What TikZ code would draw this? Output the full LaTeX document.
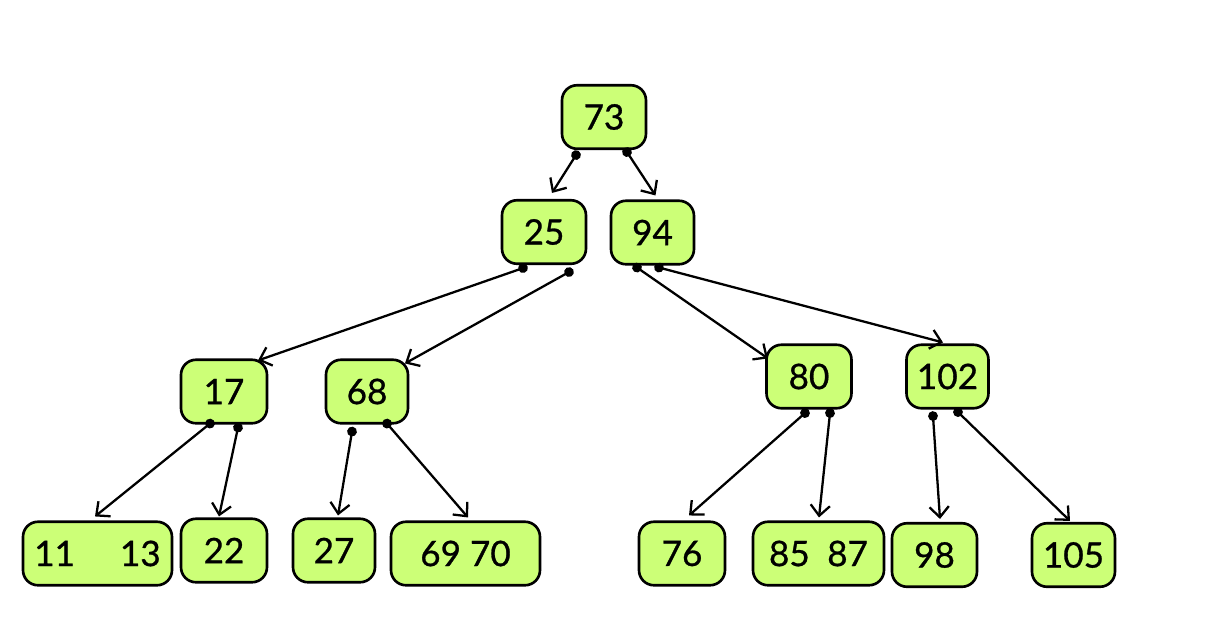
\documentclass[tikz,border=0pt]{standalone}
\usepackage{fontspec}
\setmainfont{Lato}[FakeBold=0.8]
\usepackage{tikz}
\usetikzlibrary{positioning,arrows.meta,calc}
\definecolor{keygreen}{RGB}{204,255,119}
\tikzset{
bnode/.style={
draw,
rounded corners=0.3cm,
line width=1.5pt,
minimum height=1.27cm,
inner sep=0pt,
align=center,
fill=keygreen,
font=\fontsize{20}{24}\selectfont
},
ptr/.style={
{Circle[length=5.5pt]}-{Straight Barb[length=6pt,width=11pt]},
shorten <=-2.75pt,
line width=1.3pt
}
}
\begin{document}
\begin{tikzpicture}[x=0.02cm,y=-0.02cm]
\useasboundingbox (0,0) rectangle (1215,637);

% root and inner keys
\node[bnode,minimum width=1.68cm] (n73) at (604,117) {73};
\node[bnode,minimum width=1.68cm] (n25) at (544,232) {25};
\node[bnode,minimum width=1.66cm] (n94) at (652.5,232.5) {94};
\node[bnode,minimum width=1.72cm] (n17) at (224,391.5) {17};
\node[bnode,minimum width=1.64cm] (n68) at (367,391.5) {68};
\node[bnode,minimum width=1.70cm] (n80) at (809,376.5) {80};
\node[bnode,minimum width=1.64cm] (n102) at (947.5,376.5) {102};

% leaves
\node[bnode,minimum width=2.98cm] (n1113) at (97.5,553.5) {11\hspace{0.9cm}13};
\node[bnode,minimum width=1.72cm] (n22) at (224,550.5) {22};
\node[bnode,minimum width=1.64cm] (n27) at (334,550.5) {27};
\node[bnode,minimum width=2.98cm] (n6970) at (465.5,553.5) {69 70};
\node[bnode,minimum width=1.72cm] (n76) at (682,553.5) {76};
\node[bnode,minimum width=2.62cm] (n8587) at (818.5,553.5) {85\hspace{0.35cm}87};
\node[bnode,minimum width=1.70cm] (n98) at (934.5,555) {98};
\node[bnode,minimum width=1.66cm] (n105) at (1073.5,555) {105};

% pointers
\draw[ptr] ($(n73.south)+(-28,5)$) -- ($(n25.north)+(8,-6)$);
\draw[ptr] ($(n73.south)+(23,2)$) -- ($(n94.north)+(3,-4)$);

\draw[ptr] ($(n25.south)+(-21,3)$) -- ($(n17.north)+(34,2)$);
\draw[ptr] ($(n25.south)+(25,7)$) -- ($(n68.north)+(38,5)$);

\draw[ptr] ($(n94.south)+(-15.5,2)$) -- ($(n80.north)+(-41,15)$);
\draw[ptr] ($(n94.south)+(6.5,2)$) -- ($(n102.north)+(-4.5,-1)$);

\draw[ptr] ($(n17.south)+(-14,-1)$) -- ($(n1113.north)+(-2.5,-4)$);
\draw[ptr] ($(n17.south)+(14,3)$) -- ($(n22.north)+(-5,-1)$);

\draw[ptr] ($(n68.south)+(-15,7)$) -- ($(n27.north)+(4,-2)$);
\draw[ptr] ($(n68.south)+(20,-1)$) -- ($(n6970.north)+(2.5,-3)$);

\draw[ptr] ($(n80.south)+(-4,3.5)$) -- ($(n76.north)+(7,-5)$);
\draw[ptr] ($(n80.south)+(21,3.5)$) -- ($(n8587.north)+(0.5,-3)$);

\draw[ptr] ($(n102.south)+(-14.5,6.5)$) -- ($(n98.north)+(5.5,-3)$);
\draw[ptr] ($(n102.south)+(10.5,2.5)$) -- ($(n105.north)+(-3.5,-1)$);

\end{tikzpicture}
\end{document}
